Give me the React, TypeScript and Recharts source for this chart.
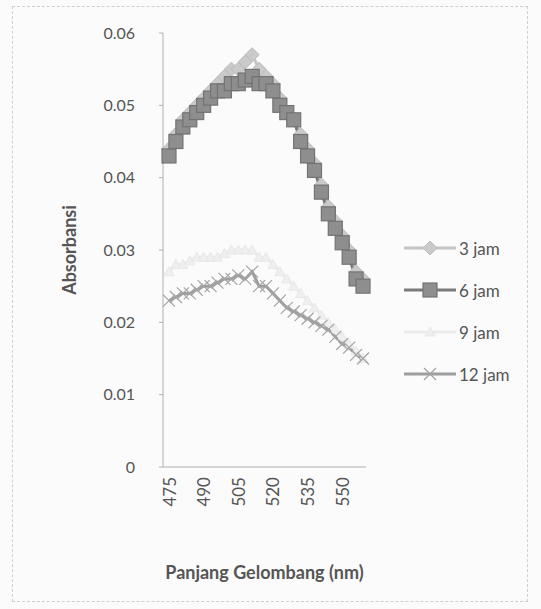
import React from 'react';
import { LineChart, Line, XAxis, YAxis } from 'recharts';

const wavelengths = [475, 478, 481, 484, 487, 490, 493, 496, 499, 502, 505, 508, 511, 514, 517, 520, 523, 526, 529, 532, 535, 538, 541, 544, 547, 550, 553, 556, 559];

const jam3 = [0.044, 0.046, 0.048, 0.049, 0.050, 0.051, 0.052, 0.053, 0.054, 0.055, 0.055, 0.056, 0.057, 0.055, 0.054, 0.053, 0.051, 0.049, 0.048, 0.046, 0.044, 0.042, 0.039, 0.036, 0.034, 0.032, 0.030, 0.027, 0.026];
const jam6 = [0.043, 0.045, 0.047, 0.048, 0.049, 0.050, 0.051, 0.052, 0.052, 0.053, 0.053, 0.0535, 0.054, 0.053, 0.053, 0.052, 0.050, 0.049, 0.048, 0.045, 0.043, 0.041, 0.038, 0.035, 0.033, 0.031, 0.029, 0.026, 0.025];
const jam9 = [0.027, 0.028, 0.028, 0.0285, 0.029, 0.029, 0.029, 0.029, 0.0295, 0.030, 0.030, 0.030, 0.030, 0.029, 0.029, 0.028, 0.027, 0.026, 0.025, 0.024, 0.023, 0.022, 0.021, 0.020, 0.019, 0.018, 0.017, 0.016, 0.015];
const jam12 = [0.023, 0.0235, 0.024, 0.024, 0.0245, 0.025, 0.025, 0.0255, 0.026, 0.026, 0.0265, 0.026, 0.027, 0.025, 0.025, 0.024, 0.023, 0.022, 0.0215, 0.021, 0.0205, 0.020, 0.0195, 0.019, 0.018, 0.017, 0.0165, 0.0155, 0.015];

const yTicks = [0, 0.01, 0.02, 0.03, 0.04, 0.05, 0.06];
const seriesNames = ['3 jam', '6 jam', '9 jam', '12 jam'];

const data = wavelengths.map((w, i) => ({
  wl: w,
  j3: jam3[i],
  j6: jam6[i],
  j9: jam9[i],
  j12: jam12[i],
}));

const FONT = 'Lato, "Open Sans", sans-serif';

const Diamond = (cx: number, cy: number, key: any, fill: string, stroke: string) => (
  <path key={key} d={`M${cx},${cy - 7} L${cx + 7},${cy} L${cx},${cy + 7} L${cx - 7},${cy} Z`} fill={fill} stroke={stroke} strokeWidth={1} />
);
const Square = (cx: number, cy: number, key: any, fill: string, stroke: string) => (
  <rect key={key} x={cx - 7} y={cy - 7} width={14} height={14} fill={fill} stroke={stroke} strokeWidth={1.2} />
);
const Tri = (cx: number, cy: number, key: any, fill: string, stroke: string) => (
  <path key={key} d={`M${cx},${cy - 5} L${cx + 5},${cy + 4} L${cx - 5},${cy + 4} Z`} fill={fill} stroke={stroke} strokeWidth={1} />
);
const Star = (cx: number, cy: number, key: any, stroke: string) => (
  <g key={key} stroke={stroke} strokeWidth={1.2}>
    <line x1={cx - 6} y1={cy - 6} x2={cx + 6} y2={cy + 6} />
    <line x1={cx - 6} y1={cy + 6} x2={cx + 6} y2={cy - 6} />
  </g>
);

const dot3 = (p: any) => Diamond(p.cx, p.cy, `d3-${p.index}`, '#cacaca', '#bbbbbb');
const dot6 = (p: any) => Square(p.cx, p.cy, `d6-${p.index}`, '#8e8e8e', '#737373');
const dot9 = (p: any) => Tri(p.cx, p.cy, `d9-${p.index}`, '#efefef', '#e8e8e8');
const dot12 = (p: any) => Star(p.cx, p.cy, `d12-${p.index}`, '#a4a4a4');

const XTick = (props: any) => {
  const { x, y, payload } = props;
  return (
    <text
      x={x}
      y={y + 2}
      transform={`rotate(-90, ${x}, ${y + 2})`}
      textAnchor="end"
      dominantBaseline="central"
      fontSize={17}
      fill="#555"
      fontFamily={FONT}
    >
      {payload.value}
    </text>
  );
};

const legendStyles = [
  { line: '#c4c4c4', marker: (cx: number, cy: number) => Diamond(cx, cy, 'l3', '#cacaca', '#bbbbbb') },
  { line: '#7a7a7a', marker: (cx: number, cy: number) => Square(cx, cy, 'l6', '#8e8e8e', '#737373') },
  { line: '#ececec', marker: (cx: number, cy: number) => Tri(cx, cy, 'l9', '#efefef', '#e8e8e8') },
  { line: '#9e9e9e', marker: (cx: number, cy: number) => Star(cx, cy, 'l12', '#a4a4a4') },
];

const LegendBox = () => (
  <div style={{ position: 'absolute', left: 402, top: 227, fontFamily: FONT, fontSize: 17, color: '#555' }}>
    {seriesNames.map((n, i) => (
      <div key={n} style={{ display: 'flex', alignItems: 'center', height: 42 }}>
        <svg width={56} height={20}>
          <line x1={2} y1={10} x2={54} y2={10} stroke={legendStyles[i].line} strokeWidth={3} />
          {legendStyles[i].marker(28, 10)}
        </svg>
        <span style={{ marginLeft: 1 }}>{n}</span>
      </div>
    ))}
  </div>
);

export default function App() {
  return (
    <div style={{ position: 'absolute', left: 0, top: 0, width: 541, height: 609, background: '#fbfbfb' }}>
      <div style={{ position: 'absolute', left: 12, top: 6, width: 514, height: 594, border: '1px dashed #cfcfcf' }} />
      <div style={{ position: 'absolute', left: 0, top: 0 }}>
        <LineChart
          width={541}
          height={609}
          data={data}
          margin={{ top: 33, right: 175, bottom: 0, left: 0 }}
        >
          <XAxis
            dataKey="wl"
            type="category"
            interval={4}
            tick={<XTick />}
            tickLine={false}
            axisLine={{ stroke: '#b0b0b0' }}
            height={142}
            padding={{ left: 6, right: 3 }}
            label={{ value: 'Panjang Gelombang (nm)', position: 'insideBottom', offset: 30, style: { fontFamily: FONT, fontSize: 18, fontWeight: 700, fill: '#555' } }}
          />
          <YAxis
            type="number"
            domain={[0, 0.06]}
            ticks={yTicks}
            width={163}
            tickSize={4}
            tickMargin={24}
            tickLine={{ stroke: '#b0b0b0' }}
            axisLine={{ stroke: '#b0b0b0' }}
            tick={{ fontFamily: FONT, fontSize: 16, fill: '#555' }}
            label={{ value: 'Absorbansi', angle: -90, position: 'insideLeft', offset: 70, dy: 0, style: { fontFamily: FONT, fontSize: 18, fontWeight: 700, fill: '#555', textAnchor: 'middle' } }}
          />
          <Line dataKey="j3" name="3 jam" stroke="#c4c4c4" strokeWidth={3} dot={dot3} isAnimationActive={false} />
          <Line dataKey="j6" name="6 jam" stroke="#7a7a7a" strokeWidth={3} dot={dot6} isAnimationActive={false} />
          <Line dataKey="j9" name="9 jam" stroke="#ececec" strokeWidth={3} dot={dot9} isAnimationActive={false} />
          <Line dataKey="j12" name="12 jam" stroke="#9e9e9e" strokeWidth={3} dot={dot12} isAnimationActive={false} />
        </LineChart>
      </div>
      <LegendBox />
    </div>
  );
}
